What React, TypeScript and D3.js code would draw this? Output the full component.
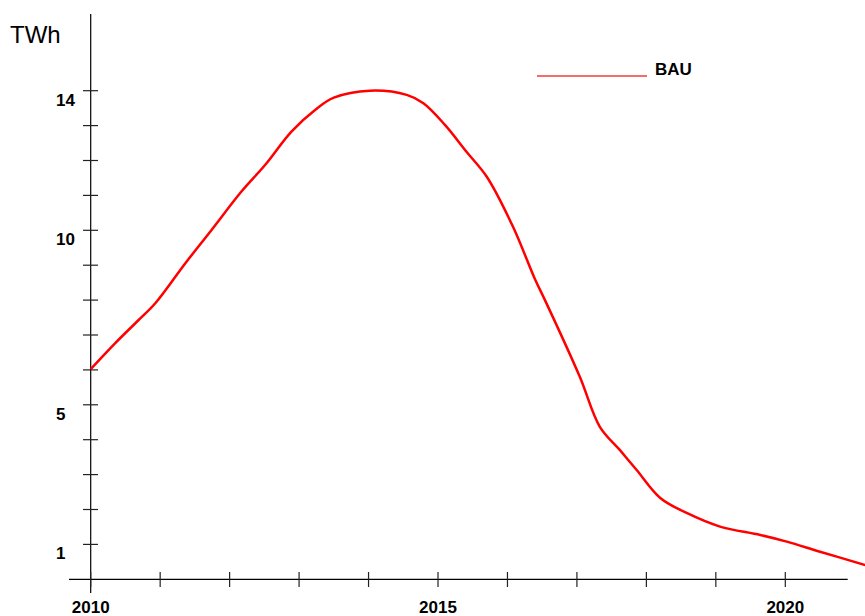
import React from "react";
import * as d3 from "d3";

const years: number[] = [
  2010.0, 2010.35, 2010.69, 2010.93, 2011.36, 2011.74, 2012.17, 2012.51, 2012.89, 2013.23,
  2013.5, 2014.02, 2014.55, 2014.79, 2015.1, 2015.41, 2015.7, 2016.08, 2016.4, 2016.54,
  2017.04, 2017.33, 2017.62, 2017.86, 2018.2, 2018.58, 2019.06, 2019.64, 2020.02, 2020.5, 2021.15,
];
const bau: number[] = [
  6.02, 6.76, 7.43, 7.91, 9.05, 10.01, 11.11, 11.87, 12.83, 13.45,
  13.8, 14.0, 13.88, 13.64, 13.02, 12.25, 11.54, 10.1, 8.58, 8.0,
  5.81, 4.37, 3.7, 3.13, 2.33, 1.9, 1.51, 1.27, 1.08, 0.79, 0.41,
];
const xTicks: number[] = [2010, 2011, 2012, 2013, 2014, 2015, 2016, 2017, 2018, 2019, 2020];
const xLabels: number[] = [2010, 2015, 2020];
const yTicks: number[] = [1, 2, 3, 4, 5, 6, 7, 8, 9, 10, 11, 12, 13, 14];
const yLabels: number[] = [1, 5, 10, 14];
const unit = "TWh";
const seriesName = "BAU";

const W = 865;
const H = 616;

export default function App() {
  const x = d3.scaleLinear().domain([2010, 2020]).range([90.7, 785.3]);
  const y = d3.scaleLinear().domain([0, 14]).range([579.3, 90.7]);
  const pts = years.map((yr, i) => [yr, bau[i]] as [number, number]);
  const line = d3
    .line<[number, number]>()
    .x((d) => x(d[0]))
    .y((d) => y(d[1]))
    .curve(d3.curveCatmullRom.alpha(0.5));
  const font = "'Liberation Sans', Arial, sans-serif";
  const x0 = x(2010);
  const y0 = y(0);
  return (
    <svg
      width={W}
      height={H}
      style={{ position: "fixed", left: 0, top: 0, background: "#fff" }}
      fontFamily={font}
    >
      <rect x={0} y={0} width={W} height={H} fill="#fff" />
      <text x={10} y={43} fontSize={24} fill="#000">
        {unit}
      </text>
      {/* y axis */}
      <line x1={x0} x2={x0} y1={14} y2={593} stroke="#000" strokeWidth={1.2} />
      {yTicks.map((t) => (
        <line key={t} x1={83} x2={98} y1={y(t)} y2={y(t)} stroke="#222" strokeWidth={1.2} />
      ))}
      {yLabels.map((t) => (
        <text key={t} x={56} y={y(t) + 15} fontSize={17} fontWeight="bold" fill="#000">
          {t}
        </text>
      ))}
      {/* x axis */}
      <line x1={69} x2={847.7} y1={y0} y2={y0} stroke="#000" strokeWidth={1.2} />
      {xTicks.map((t) => (
        <line key={t} x1={x(t)} x2={x(t)} y1={572} y2={587} stroke="#222" strokeWidth={1.2} />
      ))}
      {xLabels.map((t) => (
        <text key={t} x={x(t)} y={613} fontSize={17} fontWeight="bold" textAnchor="middle" fill="#000">
          {t}
        </text>
      ))}
      {/* series */}
      <path d={line(pts) || ""} fill="none" stroke="#ff0000" strokeWidth={2.5} />
      {/* legend */}
      <line x1={537} x2={647} y1={76} y2={76} stroke="#f03c3c" strokeWidth={1.5} />
      <text x={655} y={75} fontSize={17} fontWeight="bold" fill="#000">
        {seriesName}
      </text>
    </svg>
  );
}
